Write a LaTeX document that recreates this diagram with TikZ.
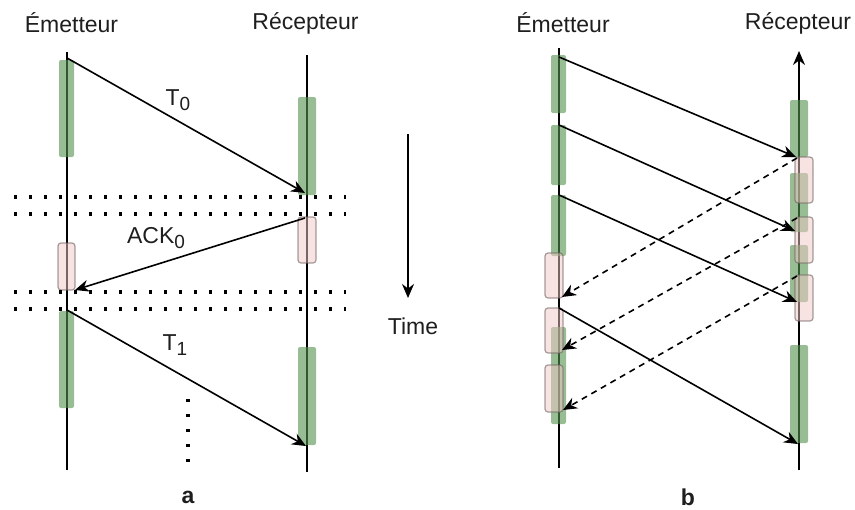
\documentclass[tikz,border=0pt]{standalone}
\usepackage{fontspec}
\setmainfont{Liberation Sans}
\usetikzlibrary{arrows.meta}
\definecolor{gbar}{RGB}{83,145,77}
\definecolor{pbar}{RGB}{240,200,198}
\definecolor{pborder}{RGB}{110,95,95}
\definecolor{txt}{RGB}{30,30,30}
\newcommand{\mysub}[1]{\raisebox{-0.45ex}{\fontsize{9.5}{10}\selectfont #1}}
\tikzset{
  lbl/.style={font=\fontsize{11.5}{13}\selectfont, text=txt, inner sep=0pt},
  sublbl/.style={font=\fontsize{11.5}{13}\selectfont\bfseries, text=txt, inner sep=0pt},
  life/.style={line width=0.8pt, black},
  greenbar/.style={fill=gbar, fill opacity=0.6, draw=none, rounded corners=1pt},
  pinkbar/.style={fill=pbar, fill opacity=0.5, draw=pborder, draw opacity=0.6, line width=0.6pt, rounded corners=1.5pt},
  msg/.style={line width=0.8pt, -{Stealth[length=7pt,width=6pt]}},
  ackmsg/.style={msg, dash pattern=on 3pt off 2.5pt},
  dotline/.style={line width=1.6pt, dash pattern=on 1.6pt off 5.9pt},
}
\begin{document}
\begin{tikzpicture}[x=0.5pt,y=-0.5pt]
\useasboundingbox (0,0) rectangle (855,509);

% ---------------- part a ----------------
\node[lbl] (emA) at (71.5,23) {Émetteur};
\node[lbl] (reA) at (305.5,23) {Récepteur};

\coordinate (aLtop) at (67,52);
\coordinate (aLbot) at (67,470);
\coordinate (aRtop) at (307,55);
\coordinate (aRbot) at (307,472);
\draw[life] (aLtop) -- (aLbot);
\draw[life] (aRtop) -- (aRbot);

\path[greenbar] (59,60) rectangle (74,157);
\path[greenbar] (298,97) rectangle (316,195);
\path[greenbar] (59,311) rectangle (74,408);
\path[greenbar] (298,347) rectangle (316,445);
\path[pinkbar] (298,217) rectangle (316,263);
\path[pinkbar] (58,243) rectangle (75,290);

\coordinate (d1a) at (14,197); \coordinate (d1b) at (346,197);
\coordinate (d2a) at (14,214); \coordinate (d2b) at (346,214);
\coordinate (d3a) at (14,292); \coordinate (d3b) at (346,292);
\coordinate (d4a) at (14,309); \coordinate (d4b) at (346,309);
\draw[dotline] (d1a) -- (d1b);
\draw[dotline] (d2a) -- (d2b);
\draw[dotline] (d3a) -- (d3b);
\draw[dotline] (d4a) -- (d4b);
\coordinate (vda) at (188,399); \coordinate (vdb) at (188,470);
\draw[dotline] (vda) -- (vdb);

\coordinate (t0s) at (67,58);   \coordinate (t0e) at (305,193);
\coordinate (k0s) at (305,218); \coordinate (k0e) at (75,290);
\coordinate (t1s) at (67,310);  \coordinate (t1e) at (306,446);
\draw[msg] (t0s) -- (t0e);
\draw[msg] (k0s) -- (k0e);
\draw[msg] (t1s) -- (t1e);

\node[lbl] (lT0) at (178,100) {T\mysub{0}};
\node[lbl] (lK0) at (156,238) {ACK\mysub{0}};
\node[lbl] (lT1) at (175,345) {T\mysub{1}};

\node[sublbl] (la) at (188,497) {a};

% time arrow
\coordinate (tmA) at (408,134);
\coordinate (tmB) at (408,298);
\draw[msg] (tmA) -- (tmB);
\node[lbl] (time) at (413,326) {Time};

% ---------------- part b ----------------
\node[lbl] (emB) at (563,23) {Émetteur};
\node[lbl] (reB) at (798,23) {Récepteur};

\coordinate (bLtop) at (559,48);
\coordinate (bLbot) at (559,468);
\coordinate (bRtop) at (799,51);
\coordinate (bRbot) at (799,470);
\draw[life] (bLtop) -- (bLbot);
\draw[msg] (bRbot) -- (bRtop);

\path[greenbar] (551,55) rectangle (566,113);
\path[greenbar] (551,125) rectangle (566,185);
\path[greenbar] (551,195) rectangle (566,256);
\path[greenbar] (551,327) rectangle (566,424);
\path[greenbar] (790,100) rectangle (808,157);
\path[greenbar] (790,173) rectangle (808,232);
\path[greenbar] (790,245) rectangle (808,302);
\path[greenbar] (790,345) rectangle (808,443);

\path[pinkbar] (545,253) rectangle (563,298);
\path[pinkbar] (545,308) rectangle (563,353);
\path[pinkbar] (545,365) rectangle (563,412);
\path[pinkbar] (795,157) rectangle (813,203);
\path[pinkbar] (795,217) rectangle (813,263);
\path[pinkbar] (795,275) rectangle (813,321);

\coordinate (s1) at (559,57);  \coordinate (e1) at (796,157);
\coordinate (s2) at (559,125); \coordinate (e2) at (795,231);
\coordinate (s3) at (559,195); \coordinate (e3) at (797,302);
\coordinate (s4) at (559,308); \coordinate (e4) at (798,444);
\draw[msg] (s1) -- (e1);
\draw[msg] (s2) -- (e2);
\draw[msg] (s3) -- (e3);
\draw[msg] (s4) -- (e4);

\coordinate (as1) at (797,158); \coordinate (ae1) at (562,297);
\coordinate (as2) at (797,218); \coordinate (ae2) at (562,350);
\coordinate (as3) at (797,276); \coordinate (ae3) at (563,410);
\draw[ackmsg] (as1) -- (ae1);
\draw[ackmsg] (as2) -- (ae2);
\draw[ackmsg] (as3) -- (ae3);

\node[sublbl] (lb) at (688,497) {b};
\end{tikzpicture}
\end{document}
